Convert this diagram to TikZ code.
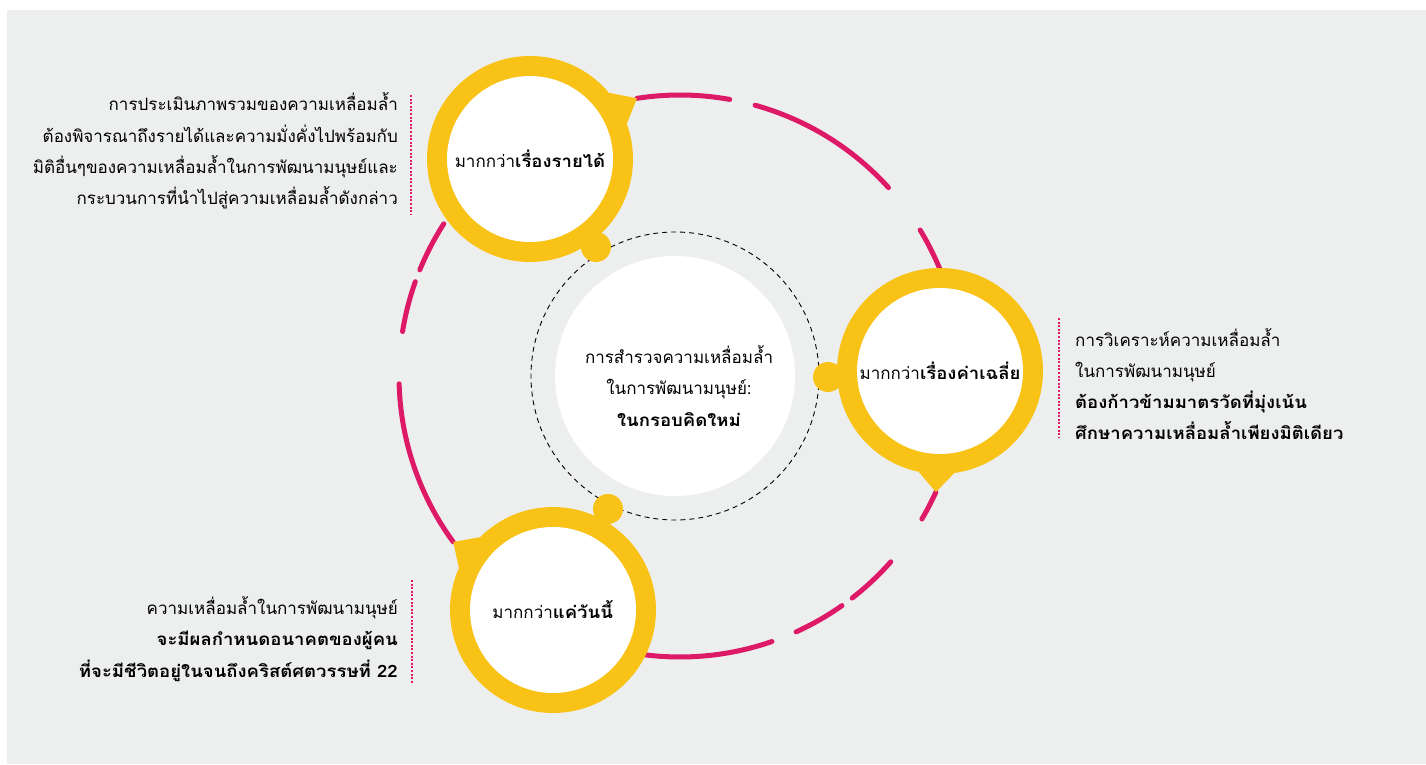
\documentclass[tikz,border=0pt]{standalone}
\usepackage{fontspec}
\newfontfamily\thaifont[Script=Thai,BoldFeatures={FakeStretch=1.09}]{Loma}
\usetikzlibrary{calc}

\definecolor{bggray}{RGB}{237,239,238}
\definecolor{ringyellow}{RGB}{249,194,23}
\definecolor{cyclepink}{RGB}{222,26,104}

\tikzset{
  ring/.style={circle,fill=ringyellow,minimum size=206pt,inner sep=0pt,outer sep=0pt},
  face/.style={circle,fill=white,minimum size=166pt,inner sep=0pt,
    font=\thaifont\fontsize{17}{20}\selectfont},
  knob/.style={circle,fill=ringyellow,minimum size=30pt,inner sep=0pt},
  cycleline/.style={cyclepink,line width=5pt,line cap=round},
  note/.style={inner sep=0pt,font=\thaifont\fontsize{17}{31.3}\selectfont},
  rule/.style={cyclepink,line width=2.6pt,dash pattern=on 2pt off 1.6pt}
}

\begin{document}
\begin{tikzpicture}[x=1pt,y=1pt]
\useasboundingbox (0,0) rectangle (1426,764);
\fill[bggray] (7,0) rectangle (1426,754);

\coordinate (ctr) at (680,388);
\coordinate (hub) at (675,388);

\draw[cycleline] ($(ctr)+(98.8:281)$) arc[start angle=98.8,end angle=79.8,radius=281];
\draw[cycleline] ($(ctr)+(74.5:281)$) arc[start angle=74.5,end angle=42.1,radius=281];
\draw[cycleline] ($(ctr)+(31.3:281)$) arc[start angle=31.3,end angle=10,radius=281];
\draw[cycleline] ($(ctr)+(-24.4:281)$) arc[start angle=-24.4,end angle=-30.6,radius=281];
\draw[cycleline] ($(ctr)+(-41.4:281)$) arc[start angle=-41.4,end angle=-52.2,radius=281];
\draw[cycleline] ($(ctr)+(-54.8:281)$) arc[start angle=-54.8,end angle=-65.6,radius=281];
\draw[cycleline] ($(ctr)+(-70.9:281)$) arc[start angle=-70.9,end angle=-110,radius=281];
\draw[cycleline] ($(ctr)+(216.2:281)$) arc[start angle=216.2,end angle=181.6,radius=281];
\draw[cycleline] ($(ctr)+(170.9:281)$) arc[start angle=170.9,end angle=160.4,radius=281];
\draw[cycleline] ($(ctr)+(157.8:281)$) arc[start angle=157.8,end angle=147.2,radius=281];

\draw[black,line width=0.9pt,dash pattern=on 5pt off 4pt] (hub) circle[radius=144];
\node[circle,fill=white,minimum size=240pt,inner sep=0pt] (core) at (hub) {};
\node[align=center,font=\thaifont\fontsize{17}{31.3}\selectfont] (coretext) at (679,378)
  {การสำรวจความเหลื่อมล้ำ\\ในการพัฒนามนุษย์:\\\textbf{ในกรอบคิดใหม่}};

\node[knob] (knobinc) at (596,517) {};
\node[knob] (knobavg) at (828,387) {};
\node[knob] (knobday) at (608,255) {};

\node[ring] (inc) at (530,605) {};
\node[ring] (avg) at (940,393) {};
\node[ring] (day) at (553,154) {};

\coordinate (inctip) at ($(ctr)+(98.8:281)$);
\coordinate (avgtip) at ($(ctr)+(-24.4:281)$);
\coordinate (daytip) at ($(ctr)+(216.2:281)$);
\fill[ringyellow] (inc.40) -- (inctip) -- (inc.20) -- cycle;
\fill[ringyellow] (avg.-82) -- (avgtip) -- (avg.-102) -- cycle;
\fill[ringyellow] (day.135) -- (daytip) -- (day.156) -- cycle;

\node[face] (incface) at (inc) {มากกว่า\textbf{เรื่องรายได้}};
\node[face] (avgface) at (avg) {มากกว่า\textbf{เรื่องค่าเฉลี่ย}};
\node[face] (dayface) at (day) {มากกว่า\textbf{แค่วันนี้}};

\node[note,anchor=east,align=right] (incnote) at (398,613)
  {การประเมินภาพรวมของความเหลื่อมล้ำ\\ต้องพิจารณาถึงรายได้และความมั่งคั่งไปพร้อมกับ\\มิติอื่นๆของความเหลื่อมล้ำในการพัฒนามนุษย์และ\\กระบวนการที่นำไปสู่ความเหลื่อมล้ำดังกล่าว};
\node[note,anchor=west,align=left] (avgnote) at (1075,380)
  {การวิเคราะห์ความเหลื่อมล้ำ\\ในการพัฒนามนุษย์\\\textbf{ต้องก้าวข้ามมาตรวัดที่มุ่งเน้น}\\\textbf{ศึกษาความเหลื่อมล้ำเพียงมิติเดียว}};
\node[note,anchor=east,align=right] (daynote) at (398,125)
  {ความเหลื่อมล้ำในการพัฒนามนุษย์\\\textbf{จะมีผลกำหนดอนาคตของผู้คน}\\\textbf{ที่จะมีชีวิตอยู่ในจนถึงคริสต์ศตวรรษที่ 22}};

\draw[rule] (411,669) -- (411,549);
\draw[rule] (1059,446) -- (1059,326);
\draw[rule] (412,184) -- (412,81);
\end{tikzpicture}
\end{document}
